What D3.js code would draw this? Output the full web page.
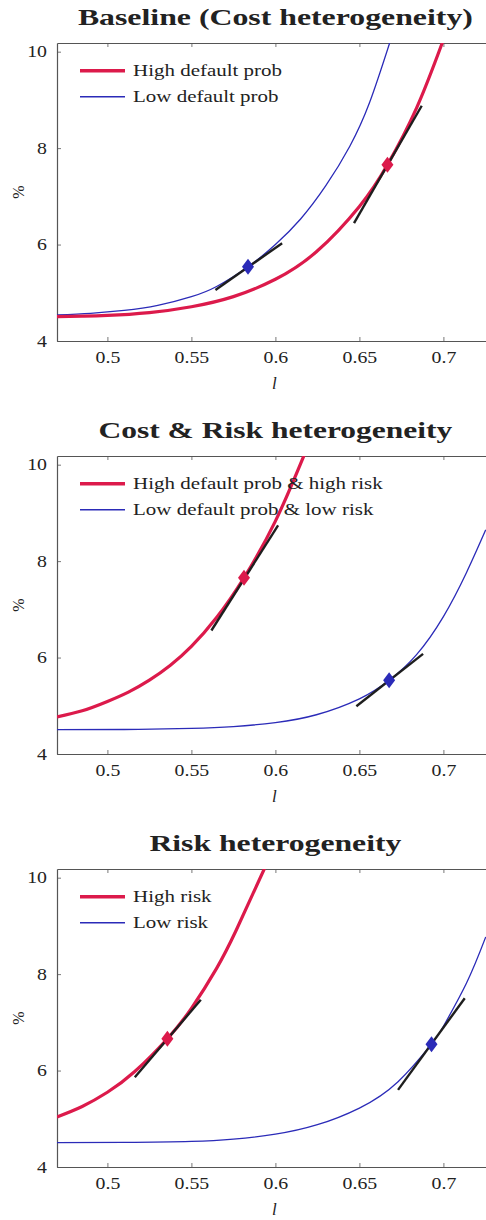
<!DOCTYPE html>
<html>
<head>
<meta charset="utf-8">
<script src="https://cdn.jsdelivr.net/npm/d3@7"></script>
<style>
  body { margin: 0; background: #fff; }
  svg { display: block; }
  text { font-family: "Liberation Serif", "Times New Roman", serif; fill: #222; }
</style>
</head>
<body>
<svg id="chart" width="486" height="1220"></svg>
<script>
// ---- data -------------------------------------------------------------
const titles = ["Baseline (Cost heterogeneity)", "Cost & Risk heterogeneity", "Risk heterogeneity"];
const titleWidths = [395, 354, 252];
const highLabels = ["High default prob", "High default prob & high risk", "High risk"];
const lowLabels  = ["Low default prob", "Low default prob & low risk", "Low risk"];

const xTicks = [0.5, 0.55, 0.6, 0.65, 0.7];
const yTicks = [4, 6, 8, 10];
const xDomain = [0.47, 0.73];
const yDomain = [4, 10.18];

// Baseline
const highX1 = [0.47, 0.485, 0.50, 0.525, 0.55, 0.575, 0.60, 0.6244, 0.65, 0.6667, 0.684, 0.6994];
const highY1 = [4.505, 4.515, 4.53, 4.59, 4.71, 4.92, 5.28, 5.85, 6.79, 7.654, 8.83, 10.19];
const lowX1  = [0.47, 0.49, 0.51, 0.53, 0.55, 0.565, 0.5837, 0.60, 0.615, 0.63, 0.6443, 0.656, 0.668];
const lowY1  = [4.541, 4.574, 4.633, 4.737, 4.919, 5.131, 5.54, 6.00, 6.53, 7.22, 8.04, 8.94, 10.18];

// Cost & risk
const highX2 = [0.47, 0.485, 0.50, 0.5125, 0.525, 0.5375, 0.55, 0.565, 0.5813, 0.60, 0.617];
const highY2 = [4.770, 4.895, 5.089, 5.283, 5.53, 5.84, 6.23, 6.83, 7.654, 8.83, 10.19];
const lowX2  = [0.47, 0.51, 0.55, 0.575, 0.60, 0.6244, 0.65, 0.6677, 0.6839, 0.70, 0.7137, 0.7252];
const lowY2  = [4.505, 4.508, 4.530, 4.568, 4.651, 4.814, 5.144, 5.529, 6.056, 6.85, 7.76, 8.65];

// Risk
const highX3 = [0.47, 0.485, 0.50, 0.5163, 0.5357, 0.55, 0.565, 0.5768, 0.5935];
const highY3 = [5.039, 5.256, 5.55, 5.98, 6.66, 7.29, 8.12, 8.92, 10.19];
const lowX3  = [0.47, 0.51, 0.55, 0.575, 0.60, 0.625, 0.65, 0.673, 0.6929, 0.70, 0.7137, 0.7252];
const lowY3  = [4.505, 4.51, 4.530, 4.577, 4.680, 4.877, 5.222, 5.769, 6.547, 6.918, 7.81, 8.77];

// marked points [x, y]
const highPoints = [[0.6667, 7.654], [0.5813, 7.654], [0.5357, 6.66]];
const lowPoints  = [[0.5837, 5.54], [0.6677, 5.529], [0.6929, 6.547]];

// tangent segments [[x0, y0], [x1, y1]]
const highTangents = [
  [[0.6468, 6.443], [0.6871, 8.879]],
  [[0.5619, 6.561], [0.6016, 8.74]],
  [[0.5163, 5.86], [0.5556, 7.467]]
];
const lowTangents = [
  [[0.5643, 5.059], [0.604, 6.028]],
  [[0.6482, 4.99], [0.6879, 6.076]],
  [[0.673, 5.60], [0.7127, 7.50]]
];

const highSeries = [[highX1, highY1], [highX2, highY2], [highX3, highY3]];
const lowSeries  = [[lowX1, lowY1], [lowX2, lowY2], [lowX3, lowY3]];

// ---- layout ------------------------------------------------------------
const RED = "#DC1A4B", BLUE = "#2B2BB8", AXIS = "#555";
const left = 57, plotW = 0.26 * 1680, plotH = 298;
const tops = [43, 456, 869];

const svg = d3.select("#chart");
const x = d3.scaleLinear().domain(xDomain).range([left, left + plotW]);
const stretch = (sel, k) => sel.each(function () {
  const w = this.getComputedTextLength();
  d3.select(this).attr("textLength", w * k).attr("lengthAdjust", "spacingAndGlyphs");
});

tops.forEach((top, i) => {
  const y = d3.scaleLinear().domain(yDomain).range([top + plotH, top]);
  const g = svg.append("g");

  g.append("clipPath").attr("id", "clip" + i)
    .append("rect").attr("x", left).attr("y", top).attr("width", plotW).attr("height", plotH);

  // title
  g.append("text").attr("x", left + plotW / 2).attr("y", top - 18)
    .attr("text-anchor", "middle").attr("font-weight", "bold").attr("font-size", 23)
    .attr("textLength", titleWidths[i]).attr("lengthAdjust", "spacingAndGlyphs")
    .text(titles[i]);

  // axes
  const fmt = d3.format("");
  const bottomAxis = d3.axisBottom(x).tickValues(xTicks).tickSize(-4).tickPadding(10)
    .tickFormat(fmt).tickSizeOuter(0);
  const topAxis = d3.axisTop(x).tickValues(xTicks).tickSize(-4).tickFormat("").tickSizeOuter(0);
  const leftAxis = d3.axisLeft(y).tickValues(yTicks).tickSize(-4).tickPadding(10)
    .tickFormat(fmt).tickSizeOuter(0);

  const gb = g.append("g").attr("transform", `translate(0,${top + plotH})`).call(bottomAxis);
  const gt = g.append("g").attr("transform", `translate(0,${top})`).call(topAxis);
  const gl = g.append("g").attr("transform", `translate(${left},0)`).call(leftAxis);
  [gb, gt, gl].forEach(a => {
    a.select(".domain").attr("stroke", AXIS).attr("stroke-width", 1.2);
    a.selectAll(".tick line").attr("stroke", AXIS).attr("stroke-width", 0.8);
    a.selectAll(".tick text").attr("font-size", 16.5).attr("fill", "#222")
      .style("font-family", '"Liberation Serif", serif');
  });
  stretch(gb.selectAll(".tick text"), 1.2);
  stretch(gl.selectAll(".tick text"), 1.2);

  // axis titles
  g.append("text").attr("x", left + plotW / 2 - 1).attr("y", top + plotH + 48)
    .attr("text-anchor", "middle").attr("font-style", "italic").attr("font-size", 17).text("l");
  g.append("text").attr("transform", `translate(24,${top + plotH / 2}) rotate(-90)`)
    .attr("text-anchor", "middle").attr("font-size", 16).text("%");

  // curves
  const plot = g.append("g").attr("clip-path", `url(#clip${i})`);
  const line = d3.line().x(d => x(d[0])).y(d => y(d[1])).curve(d3.curveNatural);
  const pts = s => s[0].map((v, j) => [v, s[1][j]]);
  plot.append("path").attr("d", line(pts(lowSeries[i])))
    .attr("fill", "none").attr("stroke", BLUE).attr("stroke-width", 1.3);
  plot.append("path").attr("d", line(pts(highSeries[i])))
    .attr("fill", "none").attr("stroke", RED).attr("stroke-width", 3.2);

  // tangents
  const seg = d3.line().x(d => x(d[0])).y(d => y(d[1]));
  [highTangents[i], lowTangents[i]].forEach(t => {
    plot.append("path").attr("d", seg(t)).attr("fill", "none")
      .attr("stroke", "#1e1e1e").attr("stroke-width", 2.4);
  });

  // markers
  const diamond = "M0,-8L6,0L0,8L-6,0Z";
  [[highPoints[i], RED], [lowPoints[i], BLUE]].forEach(([p, c]) => {
    plot.append("path").attr("d", diamond)
      .attr("transform", `translate(${x(p[0])},${y(p[1])})`).attr("fill", c);
  });

  // legend
  const ly = [top + 27.7, top + 53.7];
  const leg = [[highLabels[i], RED, 3.6], [lowLabels[i], BLUE, 1.4]];
  leg.forEach(([lab, c, w], k) => {
    g.append("line").attr("x1", 80).attr("x2", 125).attr("y1", ly[k]).attr("y2", ly[k])
      .attr("stroke", c).attr("stroke-width", w);
    const t = g.append("text").attr("x", 133).attr("y", ly[k] + 5.5)
      .attr("font-size", 16.5).text(lab);
    stretch(t, 1.27);
  });
});
</script>
</body>
</html>
